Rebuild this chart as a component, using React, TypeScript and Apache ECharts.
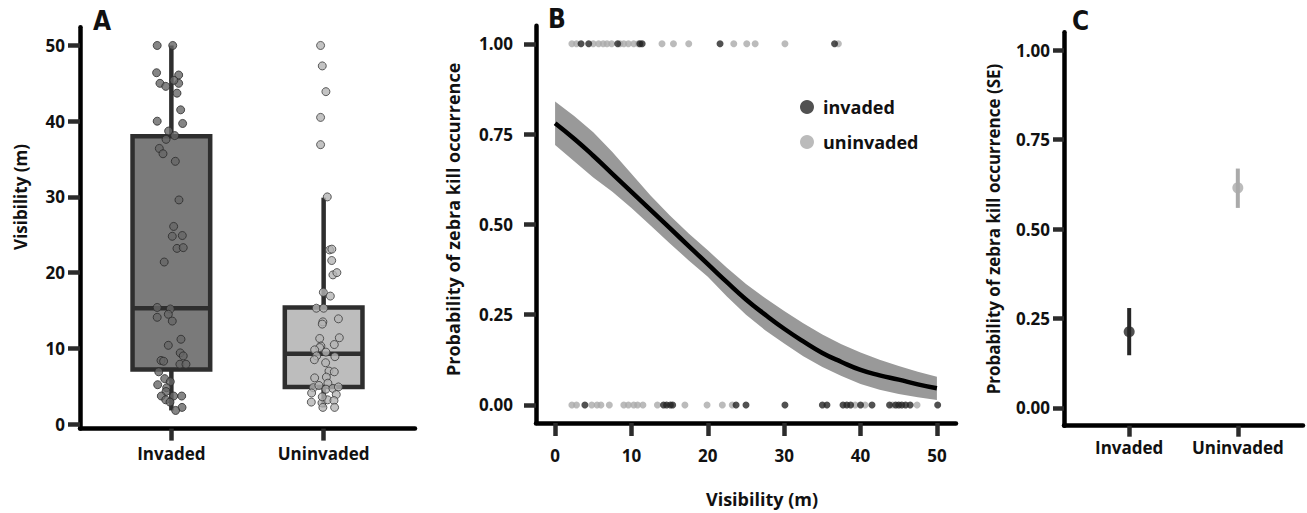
import React, { useEffect, useRef } from "react";
import * as echarts from "echarts";

// ---------- Panel A: visibility by site ----------
const groups = ["Invaded", "Uninvaded"];
// [min, Q1, median, Q3, max]
const invadedBox = [1.8, 7.2, 15.3, 38.0, 50.0];
const uninvadedBox = [2.2, 4.9, 9.3, 15.4, 29.9];

const invadedVisibility = [
  50.0, 50.0, 46.4, 46.1, 45.0, 44.6, 45.0, 45.4, 43.7, 41.5, 40.0, 39.7, 38.7, 38.1, 37.6, 36.4, 35.7,
  34.7, 29.6, 26.1, 24.8, 24.9, 23.2, 23.3, 21.4, 15.4, 15.2, 14.1, 14.5, 13.6, 11.2, 10.4, 9.4, 9.0,
  8.4, 8.3, 7.9, 7.9, 6.9, 6.0, 5.6, 5.2, 4.8, 4.3, 3.7, 3.7, 3.7, 3.2, 2.9, 2.2, 1.8,
];
const invadedJitter = [
  -0.093, 0.009, -0.097, 0.048, -0.075, -0.037, 0.048, 0.017, 0.037, 0.061, -0.093, 0.074, -0.018, 0.022,
  -0.035, -0.079, -0.055, 0.026, 0.05, 0.015, 0.006, 0.072, 0.037, 0.078, -0.047, -0.093, -0.007, -0.093,
  -0.02, 0.006, 0.063, -0.02, 0.058, 0.078, -0.068, -0.051, 0.056, 0.096, -0.083, -0.044, -0.007, -0.09,
  -0.031, -0.035, -0.066, 0.015, 0.068, -0.037, -0.009, 0.07, 0.028,
];
const uninvadedVisibility = [
  50.0, 47.3, 43.9, 40.5, 36.9, 30.0, 23.0, 23.1, 21.6, 19.7, 20.0, 17.4, 16.9, 15.3, 15.3, 13.5, 13.2,
  13.9, 11.3, 11.4, 10.3, 10.1, 10.5, 9.8, 9.5, 9.0, 8.9, 8.5, 8.1, 7.0, 6.9, 6.1, 6.2, 4.8, 5.1, 5.4,
  4.6, 4.7, 4.9, 4.1, 3.9, 2.9, 2.8, 3.2, 3.1, 2.2, 2.2, 3.6,
];
const uninvadedJitter = [
  -0.02, -0.009, 0.015, -0.02, -0.02, 0.024, 0.039, 0.054, 0.053, 0.061, 0.087, -0.002, 0.044, -0.048, 0.0,
  -0.005, -0.009, 0.097, -0.026, 0.103, -0.018, -0.026, 0.07, -0.059, 0.015, -0.046, 0.074, -0.061, 0.013,
  0.035, 0.07, -0.059, 0.018, -0.068, -0.031, 0.028, 0.015, 0.061, 0.097, -0.079, 0.083, -0.081, -0.011,
  0.026, 0.068, -0.005, 0.072, -0.009,
];
const visibilityTicks = [0, 10, 20, 30, 40, 50];

// ---------- Panel B: logistic fit ----------
const fitVisibility = [
  0, 2.5, 5, 7.5, 10, 12.5, 15, 17.5, 20, 22.5, 25, 27.5, 30, 32.5, 35, 37.5, 40, 42.5, 45, 47.5, 50,
];
const fitProb = [
  0.78, 0.737, 0.69, 0.64, 0.59, 0.54, 0.49, 0.44, 0.39, 0.34, 0.292, 0.25, 0.211, 0.176, 0.144, 0.119,
  0.097, 0.082, 0.07, 0.057, 0.046,
];
const fitUpper = [
  0.84, 0.8, 0.755, 0.7, 0.64, 0.58, 0.525, 0.475, 0.428, 0.38, 0.335, 0.296, 0.26, 0.226, 0.195, 0.168,
  0.145, 0.125, 0.108, 0.092, 0.078,
];
const fitLower = [
  0.72, 0.675, 0.63, 0.59, 0.545, 0.497, 0.448, 0.4, 0.355, 0.3, 0.25, 0.207, 0.17, 0.135, 0.105, 0.08,
  0.058, 0.042, 0.03, 0.021, 0.014,
];
const probTicks = [0, 0.25, 0.5, 0.75, 1];

// visibility of sites with kill (1) / without kill (0)
const invadedKill = [3.4, 4.4, 8.2, 11.1, 11.4, 21.6, 36.6];
const invadedNoKill = [
  3.9, 14.2, 14.6, 15.1, 15.4, 23.7, 25.0, 30.1, 35.0, 35.6, 37.7, 38.2, 38.7, 40.0, 41.5, 43.8, 44.6,
  45.0, 45.4, 45.9, 46.5, 50.1,
];
const uninvadedKill = [
  2.2, 2.8, 5.0, 5.7, 6.3, 6.8, 7.4, 8.5, 9.0, 9.6, 10.3, 10.9, 14.0, 15.5, 17.5, 23.4, 25.1, 26.2,
  30.1, 37.1,
];
const uninvadedNoKill = [
  2.2, 2.8, 4.8, 5.5, 6.0, 7.1, 9.0, 9.6, 10.3, 10.8, 11.5, 13.4, 17.0, 19.9, 21.9, 23.2, 39.3, 40.6,
  44.2, 47.4,
];

// ---------- Panel C: predicted probability (SE) ----------
const predMean = [0.213, 0.615];
const predLow = [0.147, 0.559];
const predHigh = [0.279, 0.669];

const DARK = "#262626";
const LIGHT = "#aaaaaa";
const FONT = "Open Sans";
const NARROW = "'Liberation Sans Narrow', 'DejaVu Sans Condensed', 'Roboto Condensed', Roboto, sans-serif";

const tickLabel = {
  fontFamily: FONT,
  fontWeight: "bold" as const,
  fontSize: 17,
  color: "#111",
};

export default function App() {
  const ref = useRef<HTMLDivElement>(null);

  useEffect(() => {
    if (!ref.current) return;
    const chart = echarts.init(ref.current, undefined, { renderer: "svg" });

    const boxData = [
      [1, ...invadedBox],
      [2, ...uninvadedBox],
    ];
    const boxFill = ["#7a7a7a", "#bdbdbd"];

    const axisLine = { show: true, onZero: false, lineStyle: { color: "#000", width: 4.5 } };
    const tickStyle = { color: "#2b2b2b", width: 4.5 };
    const panelLabel = (text: string, left: number, top: number) => ({
      type: "text",
      left,
      top,
      style: { text, fontFamily: NARROW, fontWeight: "bold", fontSize: 26, fill: "#111" },
    });

    const option: any = {
      animation: false,
      grid: [
        { left: 80, top: 27.3, width: 335, height: 401.3 },
        { left: 536, top: 25.7, width: 420, height: 402 },
        { left: 1064, top: 32.3, width: 239, height: 393.4 },
      ],
      xAxis: [
        {
          gridIndex: 0,
          type: "value",
          min: 0.4,
          max: 2.6,
          axisLine,
          axisTick: { show: true, customValues: [1, 2], length: 12, lineStyle: tickStyle },
          axisLabel: { ...tickLabel, customValues: [1, 2], margin: 16, formatter: (v: number) => groups[v - 1] },
          splitLine: { show: false },
        },
        {
          gridIndex: 1,
          type: "value",
          min: -2.5,
          max: 52.5,
          axisLine,
          axisTick: { show: true, customValues: visibilityTicks, length: 13, lineStyle: tickStyle },
          axisLabel: { ...tickLabel, customValues: visibilityTicks, margin: 24 },
          splitLine: { show: false },
          name: "Visibility (m)",
          nameLocation: "middle",
          nameGap: 67,
          nameTextStyle: { ...tickLabel, fontSize: 18, padding: [0, 0, 0, 32] },
        },
        {
          gridIndex: 2,
          type: "value",
          min: 0.4,
          max: 2.6,
          axisLine,
          axisTick: { show: true, customValues: [1, 2], length: 11, lineStyle: tickStyle },
          axisLabel: { ...tickLabel, customValues: [1, 2], margin: 13, formatter: (v: number) => groups[v - 1] },
          splitLine: { show: false },
        },
      ],
      yAxis: [
        {
          gridIndex: 0,
          type: "value",
          min: -0.6,
          max: 52.4,
          axisLine,
          axisTick: { show: true, customValues: visibilityTicks, length: 12, lineStyle: tickStyle },
          axisLabel: { ...tickLabel, customValues: visibilityTicks, margin: 15 },
          splitLine: { show: false },
          name: "Visibility (m)",
          nameLocation: "middle",
          nameGap: 51,
          nameRotate: 90,
          nameTextStyle: { ...tickLabel, padding: [0, 0, 0, 62] },
        },
        {
          gridIndex: 1,
          type: "value",
          min: -0.05,
          max: 1.05,
          axisLine,
          axisTick: { show: true, customValues: probTicks, length: 12, lineStyle: tickStyle },
          axisLabel: { ...tickLabel, customValues: probTicks, margin: 23, formatter: (v: number) => v.toFixed(2) },
          splitLine: { show: false },
          name: "Probability of zebra kill occurrence",
          nameLocation: "middle",
          nameGap: 74,
          nameRotate: 90,
          nameTextStyle: { ...tickLabel, fontSize: 18, padding: [0, 0, 0, 10] },
        },
        {
          gridIndex: 2,
          type: "value",
          min: -0.05,
          max: 1.05,
          axisLine,
          axisTick: { show: true, customValues: probTicks, length: 11, lineStyle: tickStyle },
          axisLabel: { ...tickLabel, customValues: probTicks, margin: 14, formatter: (v: number) => v.toFixed(2) },
          splitLine: { show: false },
          name: "Probability of zebra kill occurrence (SE)",
          nameLocation: "middle",
          nameGap: 62,
          nameRotate: 90,
          nameTextStyle: tickLabel,
        },
      ],
      legend: {
        data: ["invaded", "uninvaded"],
        orient: "vertical",
        left: 795,
        top: 93,
        icon: "circle",
        itemWidth: 14,
        itemHeight: 14,
        itemGap: 17,
        selectedMode: false,
        textStyle: { ...tickLabel, fontSize: 18, padding: [0, 0, 0, 4] },
      },
      graphic: [panelLabel("A", 93, 8), panelLabel("B", 548, 6), panelLabel("C", 1072, 8)],
      series: [
        // Panel A boxes
        {
          type: "custom",
          xAxisIndex: 0,
          yAxisIndex: 0,
          data: boxData,
          encode: { x: 0, y: [1, 2, 3, 4, 5] },
          z: 2,
          renderItem: (params: any, api: any) => {
            const x = api.value(0);
            const half = 0.255;
            const pMin = api.coord([x, api.value(1)]);
            const pQ1 = api.coord([x, api.value(2)]);
            const pMed = api.coord([x, api.value(3)]);
            const pQ3 = api.coord([x, api.value(4)]);
            const pMax = api.coord([x, api.value(5)]);
            const left = api.coord([x - half, api.value(3)])[0];
            const right = api.coord([x + half, api.value(3)])[0];
            const stroke = "#2e2e2e";
            return {
              type: "group",
              children: [
                { type: "line", shape: { x1: pMin[0], y1: pMin[1], x2: pQ1[0], y2: pQ1[1] }, style: { stroke, lineWidth: 4.5 } },
                { type: "line", shape: { x1: pQ3[0], y1: pQ3[1], x2: pMax[0], y2: pMax[1] }, style: { stroke, lineWidth: 4.5 } },
                {
                  type: "rect",
                  shape: { x: left, y: pQ3[1], width: right - left, height: pQ1[1] - pQ3[1] },
                  style: { fill: boxFill[params.dataIndex], stroke, lineWidth: 4.5 },
                },
                { type: "line", shape: { x1: left, y1: pMed[1], x2: right, y2: pMed[1] }, style: { stroke, lineWidth: 4.5 } },
              ],
            };
          },
        },
        // Panel A jittered points
        {
          type: "scatter",
          xAxisIndex: 0,
          yAxisIndex: 0,
          z: 3,
          symbolSize: 8,
          itemStyle: { color: "#666666", borderColor: "#2a2a2a", borderWidth: 1 },
          data: invadedVisibility.map((v, i) => [1 + invadedJitter[i], v]),
        },
        {
          type: "scatter",
          xAxisIndex: 0,
          yAxisIndex: 0,
          z: 3,
          symbolSize: 8,
          itemStyle: { color: "#b4b4b4", borderColor: "#3a3a3a", borderWidth: 1 },
          data: uninvadedVisibility.map((v, i) => [2 + uninvadedJitter[i], v]),
        },
        // Panel B confidence band
        {
          type: "custom",
          xAxisIndex: 1,
          yAxisIndex: 1,
          data: [[0, 0.5]],
          z: 1,
          silent: true,
          renderItem: (_p: any, api: any) => {
            const pts: number[][] = [];
            fitVisibility.forEach((x, i) => pts.push(api.coord([x, fitUpper[i]])));
            for (let i = fitVisibility.length - 1; i >= 0; i--) pts.push(api.coord([fitVisibility[i], fitLower[i]]));
            return { type: "polygon", shape: { points: pts }, style: { fill: "#999999" } };
          },
        },
        // Panel B fitted line
        {
          type: "line",
          xAxisIndex: 1,
          yAxisIndex: 1,
          z: 2,
          smooth: true,
          showSymbol: false,
          lineStyle: { color: "#000", width: 4.5 },
          data: fitVisibility.map((x, i) => [x, fitProb[i]]),
        },
        // Panel B rug points
        {
          name: "uninvaded",
          type: "scatter",
          xAxisIndex: 1,
          yAxisIndex: 1,
          z: 3,
          symbolSize: 7,
          itemStyle: { color: LIGHT },
          data: [...uninvadedKill.map((x) => [x, 1]), ...uninvadedNoKill.map((x) => [x, 0])],
        },
        {
          name: "invaded",
          type: "scatter",
          xAxisIndex: 1,
          yAxisIndex: 1,
          z: 4,
          symbolSize: 7,
          itemStyle: { color: DARK },
          data: [...invadedKill.map((x) => [x, 1]), ...invadedNoKill.map((x) => [x, 0])],
        },
        // Panel C error bars
        {
          type: "custom",
          xAxisIndex: 2,
          yAxisIndex: 2,
          data: groups.map((_, i) => [i + 1, predLow[i], predHigh[i]]),
          encode: { x: 0, y: [1, 2] },
          z: 2,
          renderItem: (params: any, api: any) => {
            const lo = api.coord([api.value(0), api.value(1)]);
            const hi = api.coord([api.value(0), api.value(2)]);
            return {
              type: "line",
              shape: { x1: lo[0], y1: lo[1], x2: hi[0], y2: hi[1] },
              style: { stroke: params.dataIndex === 0 ? DARK : LIGHT, lineWidth: 4 },
            };
          },
        },
        {
          type: "scatter",
          xAxisIndex: 2,
          yAxisIndex: 2,
          z: 3,
          symbolSize: 11,
          data: groups.map((_, i) => ({
            value: [i + 1, predMean[i]],
            itemStyle: { color: i === 0 ? DARK : LIGHT },
          })),
        },
      ],
    };

    chart.setOption(option);
    return () => chart.dispose();
  }, []);

  return (
    <div
      ref={ref}
      style={{ position: "absolute", left: 0, top: 0, width: 1307, height: 513, background: "#fff" }}
    />
  );
}
